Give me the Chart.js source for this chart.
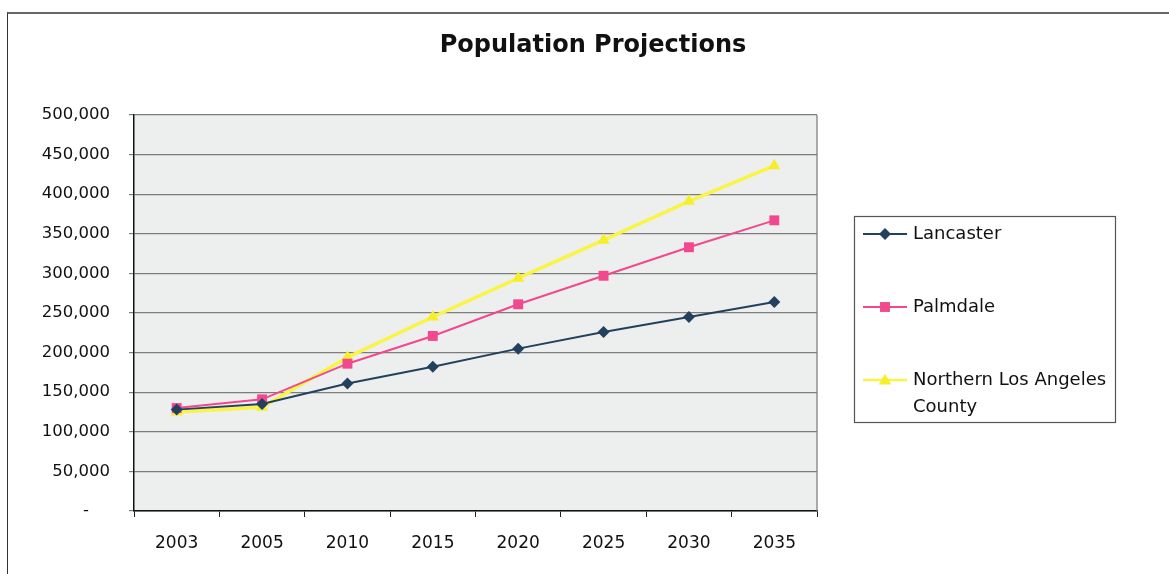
<!DOCTYPE html>
<html>
<head>
<meta charset="utf-8">
<title>Population Projections</title>
<script src="https://cdn.jsdelivr.net/npm/chart.js@4.4.0/dist/chart.umd.min.js"></script>
<style>
    html, body { margin: 0; padding: 0; background: #fff; overflow: hidden; }
    #wrap { position: relative; width: 1169px; height: 574px; }
    #frame {
        position: absolute; left: 7px; top: 12px; width: 1200px; height: 600px;
        border-left: 1.5px solid #333; border-top: 2px solid #666;
    }
    #chart { position: absolute; left: 0; top: 0; }
</style>
</head>
<body>
<div id="wrap">
    <div id="frame"></div>
    <canvas id="chart" width="1169" height="574"></canvas>
</div>
<script>
// Данные графика
const years = ['2003', '2005', '2010', '2015', '2020', '2025', '2030', '2035'];
const lancaster = [128000, 135000, 161000, 182000, 205000, 226000, 245000, 264000];
const palmdale = [130000, 141000, 186000, 221000, 261000, 297000, 333000, 367000];
const northernLA = [125000, 131000, 194000, 245000, 294000, 342000, 391000, 436000];
const seriesNames = ['Lancaster', 'Palmdale', 'Northern Los Angeles County'];
const legendLines = [['Lancaster'], ['Palmdale'], ['Northern Los Angeles', 'County']];
const chartTitle = 'Population Projections';
const yMin = 0;
const yMax = 500000;
const yStep = 50000;

const FONT = "'DejaVu Sans', Verdana, sans-serif";

// Фон области построения и рамка
const plotArea = {
    id: 'plotArea',
    beforeDraw(chart) {
        const { ctx, chartArea: a } = chart;
        ctx.save();
        ctx.fillStyle = '#edefee';
        ctx.fillRect(a.left, a.top, a.right - a.left, a.bottom - a.top);
        ctx.restore();
    },
    beforeDatasetsDraw(chart) {
        const { ctx, chartArea: a } = chart;
        ctx.save();
        ctx.strokeStyle = '#777';
        ctx.lineWidth = 1.2;
        ctx.beginPath();
        ctx.moveTo(a.right, a.top);
        ctx.lineTo(a.right, a.bottom);
        ctx.stroke();
        ctx.restore();
    }
};

// Заголовок по центру всей рамки
const frameTitle = {
    id: 'frameTitle',
    afterDraw(chart) {
        const { ctx } = chart;
        ctx.save();
        ctx.fillStyle = '#111';
        ctx.font = 'bold 24px ' + FONT;
        ctx.textAlign = 'center';
        ctx.textBaseline = 'middle';
        ctx.fillText(chartTitle, (7 + chart.width + 10) / 2, 46);
        ctx.restore();
    }
};

// Маркер для легенды
function drawMarker(ctx, style, x, y, r) {
    ctx.beginPath();
    if (style === 'rectRot') {
        ctx.moveTo(x - r, y); ctx.lineTo(x, y - r); ctx.lineTo(x + r, y); ctx.lineTo(x, y + r);
    } else if (style === 'rect') {
        const s = r * Math.SQRT1_2;
        ctx.rect(x - s, y - s, 2 * s, 2 * s);
    } else {
        const h = r * 0.9;
        ctx.moveTo(x, y - h); ctx.lineTo(x + h, y + h * 0.7); ctx.lineTo(x - h, y + h * 0.7);
    }
    ctx.closePath();
    ctx.fill();
}

// Легенда в стиле Excel
const excelLegend = {
    id: 'excelLegend',
    afterDraw(chart) {
        const { ctx, chartArea: a } = chart;
        const left = a.right + 37;
        const top = 216;
        ctx.save();
        ctx.fillStyle = '#fff';
        ctx.fillRect(left, top, 261, 206);
        ctx.strokeStyle = '#555';
        ctx.lineWidth = 1.2;
        ctx.strokeRect(left + 0.5, top + 0.5, 261, 206);
        const rows = [234, 307, 380];
        chart.data.datasets.forEach((ds, i) => {
            const y = rows[i];
            ctx.strokeStyle = ds.borderColor;
            ctx.lineWidth = Math.min(ds.borderWidth, 2.5);
            ctx.beginPath();
            ctx.moveTo(left + 9, y);
            ctx.lineTo(left + 53, y);
            ctx.stroke();
            ctx.fillStyle = ds.pointBackgroundColor;
            drawMarker(ctx, ds.pointStyle, left + 31, y, ds.pointRadius);
            ctx.fillStyle = '#111';
            ctx.font = '18px ' + FONT;
            ctx.textBaseline = 'middle';
            ctx.textAlign = 'left';
            legendLines[i].forEach((t, k) => ctx.fillText(t, left + 59, y + k * 27));
        });
        ctx.restore();
    }
};

const ctx = document.getElementById('chart').getContext('2d');
new Chart(ctx, {
    type: 'line',
    data: {
        labels: years,
        datasets: [
            {
                label: seriesNames[0], data: lancaster,
                borderColor: '#23405f', backgroundColor: '#23405f', pointBackgroundColor: '#23405f',
                borderWidth: 2, pointStyle: 'rectRot', pointRadius: 6, pointBorderWidth: 0
            },
            {
                label: seriesNames[1], data: palmdale,
                borderColor: '#f2488e', backgroundColor: '#f2488e', pointBackgroundColor: '#f2488e',
                borderWidth: 2, pointStyle: 'rect', pointRadius: 7, pointBorderWidth: 0
            },
            {
                label: seriesNames[2], data: northernLA,
                borderColor: '#f9f445', backgroundColor: '#f9f445', pointBackgroundColor: '#f7ee2a',
                borderWidth: 3.5, pointStyle: 'triangle', pointRadius: 7, pointBorderWidth: 0
            }
        ]
    },
    options: {
        responsive: false,
        animation: false,
        devicePixelRatio: 1,
        layout: { padding: { left: 0, right: 352, top: 115, bottom: 0 } },
        plugins: {
            legend: { display: false },
            tooltip: { enabled: false },
            title: { display: false }
        },
        scales: {
            x: {
                offset: true,
                afterFit(scale) { scale.height = 63; },
                grid: { offset: true, drawOnChartArea: false, drawTicks: true, tickLength: 6, color: '#222', lineWidth: 1 },
                border: { color: '#111', width: 1.5 },
                ticks: { color: '#111', padding: 16, maxRotation: 0, font: { family: FONT, size: 17 } }
            },
            y: {
                min: yMin, max: yMax,
                afterFit(scale) { scale.width = 134; },
                grid: { color: '#7c7c7c', lineWidth: 1.2, tickLength: 5 },
                border: { color: '#111', width: 1.5 },
                ticks: {
                    stepSize: yStep, color: '#111', padding: 19,
                    font: { family: FONT, size: 16.5 },
                    callback: v => v === 0 ? '-\u00a0\u00a0\u00a0\u00a0' : v.toLocaleString('en-US')
                }
            }
        }
    },
    plugins: [plotArea, frameTitle, excelLegend]
});
</script>
</body>
</html>
